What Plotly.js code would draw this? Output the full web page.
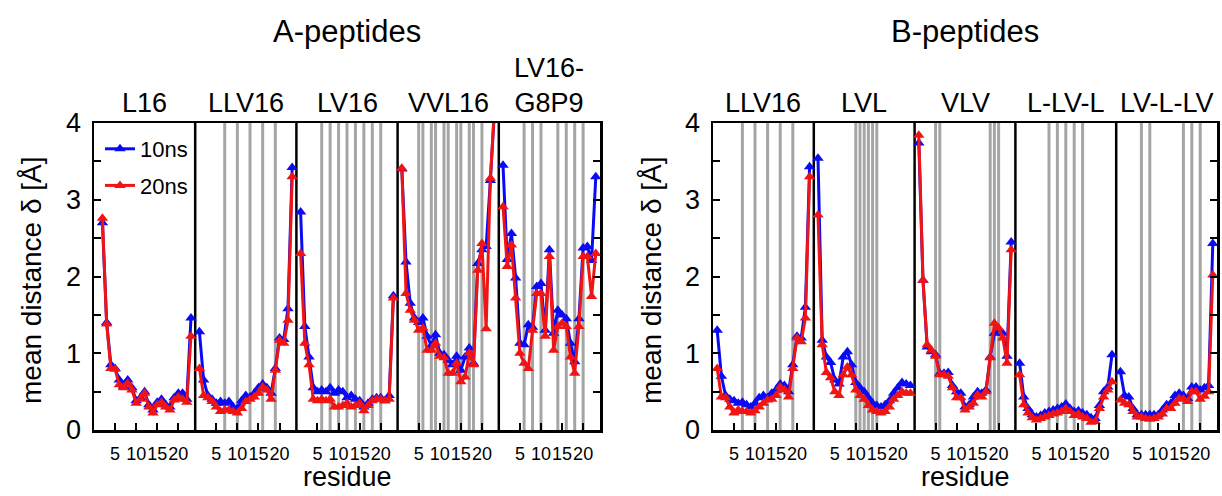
<!DOCTYPE html>
<html>
<head>
<meta charset="utf-8">
<script src="https://cdn.plot.ly/plotly-3.0.1.min.js"></script>
<style>html,body{margin:0;padding:0;background:#fff;}#chart{width:1222px;height:496px;}</style>
</head>
<body>
<div id="chart"></div>
<script>
// ---------------- DATA ----------------
const seriesNames = ["10ns", "20ns"];
const chartTitles = ["A-peptides", "B-peptides"];
const panelsA = ["L16", "LLV16", "LV16", "VVL16", "LV16-<br>G8P9"];
const panelsB = ["LLV16", "LVL", "VLV", "L-LV-L", "LV-L-LV"];
const tickResidues = [5, 10, 15, 20];
const yTickValues = [0, 0.5, 1, 1.5, 2, 2.5, 3, 3.5, 4];
const yTickLabels = ["0", "", "1", "", "2", "", "3", "", "4"];
const yTitle = "mean distance δ [Å]";
const xTitle = "residue";

const residuesFrom2 = [2,3,4,5,6,7,8,9,10,11,12,13,14,15,16,17,18,19,20,21,22,23];
const residuesFrom1 = [1,2,3,4,5,6,7,8,9,10,11,12,13,14,15,16,17,18,19,20,21,22,23];

// A-peptides
const A_L16_10ns   = [2.70,1.40,0.85,0.80,0.65,0.57,0.65,0.55,0.38,0.42,0.50,0.33,0.26,0.36,0.40,0.33,0.30,0.42,0.48,0.48,0.40,1.46];
const A_L16_20ns   = [2.76,1.38,0.80,0.79,0.59,0.55,0.61,0.52,0.35,0.40,0.48,0.30,0.22,0.33,0.36,0.30,0.26,0.39,0.43,0.40,0.36,1.22];
const A_LLV16_10ns = [1.28,0.65,0.45,0.40,0.35,0.37,0.35,0.37,0.30,0.28,0.38,0.45,0.43,0.48,0.55,0.60,0.55,0.48,0.80,1.20,1.18,1.58,3.42];
const A_LLV16_20ns = [0.80,0.45,0.42,0.37,0.30,0.24,0.26,0.26,0.24,0.22,0.28,0.37,0.40,0.43,0.48,0.56,0.52,0.40,0.78,1.17,1.13,1.43,3.30];
const A_LV16_10ns  = [2.84,1.35,0.95,0.55,0.50,0.52,0.50,0.55,0.48,0.52,0.50,0.42,0.45,0.40,0.38,0.30,0.35,0.40,0.42,0.42,0.38,0.45,1.75];
const A_LV16_20ns  = [2.30,1.13,0.85,0.40,0.38,0.40,0.38,0.40,0.30,0.30,0.32,0.35,0.30,0.32,0.35,0.25,0.32,0.38,0.40,0.40,0.38,0.40,1.72];
const A_VVL16_10ns = [3.40,2.19,1.65,1.46,1.40,1.46,1.22,1.10,1.24,1.00,0.98,0.91,0.85,0.96,0.78,0.95,1.07,0.87,2.17,2.35,2.39,3.25,4.20];
const A_VVL16_20ns = [3.41,1.78,1.56,1.43,1.30,1.33,1.04,1.04,1.13,0.96,0.94,0.74,0.74,0.87,0.63,0.69,1.00,0.85,2.08,2.43,1.32,3.28,4.20];
const A_G8P9_10ns  = [3.45,2.22,2.56,1.98,1.13,1.11,1.37,1.34,1.87,1.91,1.30,2.35,1.26,1.56,1.50,1.45,1.13,0.89,1.45,2.37,2.39,2.21,3.30];
const A_G8P9_20ns  = [2.91,2.13,2.41,1.72,1.00,0.87,0.80,1.30,1.78,1.78,1.22,2.26,1.04,1.35,1.39,1.35,0.95,0.74,1.35,2.26,2.26,1.74,2.30];

// B-peptides
const B_LLV16_10ns = [1.30,0.70,0.45,0.40,0.38,0.35,0.36,0.33,0.30,0.35,0.42,0.45,0.42,0.48,0.52,0.60,0.58,0.50,0.85,1.22,1.20,1.60,3.43];
const B_LLV16_20ns = [0.80,0.43,0.42,0.30,0.22,0.26,0.24,0.24,0.22,0.25,0.30,0.35,0.39,0.40,0.45,0.56,0.52,0.43,0.80,1.20,1.15,1.46,3.30];
const B_LVL_10ns   = [3.54,1.17,0.95,0.88,0.65,0.60,0.95,1.02,0.85,0.62,0.55,0.50,0.42,0.35,0.32,0.30,0.33,0.38,0.48,0.55,0.62,0.60,0.58];
const B_LVL_20ns   = [2.80,1.11,0.75,0.68,0.50,0.45,0.72,0.82,0.72,0.52,0.45,0.40,0.32,0.26,0.24,0.22,0.24,0.30,0.40,0.45,0.50,0.48,0.48];
const B_VLV_10ns   = [3.74,1.95,1.08,1.02,0.98,0.74,0.74,0.75,0.58,0.50,0.48,0.30,0.33,0.43,0.50,0.48,0.52,0.95,1.26,1.30,1.26,0.96,2.45];
const B_VLV_20ns   = [3.84,1.95,1.11,1.04,0.96,0.72,0.72,0.70,0.55,0.42,0.42,0.26,0.30,0.35,0.46,0.43,0.50,0.94,1.39,1.33,1.20,0.87,2.35];
const B_LLVL_10ns  = [0.87,0.43,0.28,0.20,0.17,0.19,0.22,0.24,0.26,0.28,0.30,0.34,0.28,0.24,0.25,0.22,0.20,0.16,0.15,0.32,0.50,0.56,0.98];
const B_LLVL_20ns  = [0.72,0.33,0.22,0.16,0.13,0.15,0.17,0.19,0.21,0.22,0.24,0.28,0.24,0.19,0.21,0.17,0.15,0.10,0.11,0.28,0.43,0.52,0.63];
const B_LVLLV_10ns = [0.76,0.45,0.43,0.28,0.20,0.20,0.20,0.20,0.20,0.20,0.26,0.33,0.35,0.45,0.48,0.45,0.41,0.56,0.56,0.52,0.55,0.58,2.43];
const B_LVLLV_20ns = [0.39,0.35,0.33,0.24,0.17,0.17,0.15,0.14,0.15,0.17,0.21,0.28,0.28,0.35,0.41,0.40,0.37,0.50,0.50,0.40,0.44,0.50,2.02];

// marked residues (grey lines) per panel
const greyA = [[], [7,10,13,16,19], [6,8,10,12,14,16,18,20], [5,6,8,9,11,12,14,15,17,18,20], [6,8,10,14,16,18,20]];
const greyB = [[7,10,13,16,19], [10,11,12,13,14,15], [5,6,18,19,20], [8,10,12,14,16], [6,8,16,18,20]];

// ---------------- BUILD ----------------
const chartData = [
  { panels: panelsA, grey: greyA,
    residues: [residuesFrom2, residuesFrom1, residuesFrom1, residuesFrom1, residuesFrom1],
    values: [[A_L16_10ns, A_LLV16_10ns, A_LV16_10ns, A_VVL16_10ns, A_G8P9_10ns],
             [A_L16_20ns, A_LLV16_20ns, A_LV16_20ns, A_VVL16_20ns, A_G8P9_20ns]] },
  { panels: panelsB, grey: greyB,
    residues: [residuesFrom1, residuesFrom1, residuesFrom1, residuesFrom1, residuesFrom1],
    values: [[B_LLV16_10ns, B_LVL_10ns, B_VLV_10ns, B_LLVL_10ns, B_LVLLV_10ns],
             [B_LLV16_20ns, B_LVL_20ns, B_VLV_20ns, B_LLVL_20ns, B_LVLLV_20ns]] }
];

const W = 1222, H = 496;
const SPAN = 24;
const FONT = "Liberation Sans, Arial, Helvetica, sans-serif";
const colors = ["rgb(10,10,245)", "rgb(240,20,20)"];
const px = p => p / W;
const py = p => 1 - p / H;
const xDomains = [[px(94), px(600)], [px(713), px(1217)]];
const yDomain = [py(430), py(123)];
const axisIds = [["x", "y"], ["x2", "y2"]];

const traces = [];
for (let s = 0; s < 2; s++) {
  for (let c = 0; c < 2; c++) {
    const cd = chartData[c];
    for (let k = 0; k < cd.panels.length; k++) {
      traces.push({
        type: "scatter", mode: "lines+markers",
        x: cd.residues[k].map(r => k * SPAN + r),
        y: cd.values[s][k],
        xaxis: axisIds[c][0], yaxis: axisIds[c][1],
        name: seriesNames[s], legendgroup: seriesNames[s],
        showlegend: (c === 0 && k === 0),
        line: { color: colors[s], width: 3 },
        marker: { symbol: "triangle-up", size: 10, color: colors[s] },
        cliponaxis: true
      });
    }
  }
}

const shapes = [];
const annotations = [];
for (let c = 0; c < 2; c++) {
  const cd = chartData[c];
  const xr = axisIds[c][0], yr = axisIds[c][1];
  for (let k = 0; k < cd.panels.length; k++) {
    cd.grey[k].forEach(r => shapes.push({
      type: "line", layer: "below", xref: xr, yref: yr + " domain",
      x0: k * SPAN + r, x1: k * SPAN + r, y0: 0, y1: 1,
      line: { color: "rgb(165,165,165)", width: 3 }
    }));
    if (k > 0) shapes.push({
      type: "line", layer: "below", xref: xr, yref: yr + " domain",
      x0: k * SPAN, x1: k * SPAN, y0: 0, y1: 1,
      line: { color: "black", width: 2.5 }
    });
    annotations.push({
      text: cd.panels[k], xref: xr, yref: "paper",
      x: k * SPAN + SPAN / 2, y: py(120), xanchor: "center", yanchor: "bottom",
      showarrow: false, font: { family: FONT, size: 27, color: "black" }
    });
  }
  const cx = (xDomains[c][0] + xDomains[c][1]) / 2;
  annotations.push({
    text: chartTitles[c], xref: "paper", yref: "paper", x: cx, y: py(32),
    xanchor: "center", yanchor: "middle", showarrow: false,
    font: { family: FONT, size: 31, color: "black" }
  });
  annotations.push({
    text: xTitle, xref: "paper", yref: "paper", x: cx, y: py(477),
    xanchor: "center", yanchor: "middle", showarrow: false,
    font: { family: FONT, size: 27, color: "black" }
  });
  annotations.push({
    text: yTitle, xref: "paper", yref: "paper", x: px(c === 0 ? 31 : 651), y: py(280),
    xanchor: "center", yanchor: "middle", textangle: -90, showarrow: false,
    font: { family: FONT, size: 28, color: "black" }
  });
}

const tickVals = [], tickText = [];
for (let k = 0; k < 5; k++) tickResidues.forEach(t => { tickVals.push(k * SPAN + t); tickText.push(String(t)); });

function xAxis(c) {
  return {
    domain: xDomains[c], range: [0, 5 * SPAN], anchor: axisIds[c][1],
    tickmode: "array", tickvals: tickVals, ticktext: tickText, tickangle: 0,
    ticks: "inside", ticklen: 7, tickwidth: 2, tickcolor: "black",
    showline: true, linewidth: 2.5, linecolor: "black", mirror: true,
    showgrid: false, zeroline: false, ticklabelstandoff: 6,
    tickfont: { family: FONT, size: 18, color: "black" }, fixedrange: true
  };
}
function yAxis(c) {
  return {
    domain: yDomain, range: [0, 4], anchor: axisIds[c][0],
    tickmode: "array", tickvals: yTickValues, ticktext: yTickLabels,
    ticks: "inside", ticklen: 7, tickwidth: 2, tickcolor: "black",
    showline: true, linewidth: 2.5, linecolor: "black", mirror: "ticks",
    showgrid: false, zeroline: false, ticklabelstandoff: 5,
    tickfont: { family: FONT, size: 27, color: "black" }, fixedrange: true
  };
}

const layout = {
  width: W, height: H,
  margin: { l: 0, r: 0, t: 0, b: 0 },
  paper_bgcolor: "white", plot_bgcolor: "white",
  font: { family: FONT, color: "black" },
  xaxis: xAxis(0), yaxis: yAxis(0), xaxis2: xAxis(1), yaxis2: yAxis(1),
  shapes: shapes, annotations: annotations,
  showlegend: true,
  legend: {
    x: px(100), y: py(128), xanchor: "left", yanchor: "top",
    bgcolor: "rgba(0,0,0,0)", borderwidth: 0,
    font: { family: FONT, size: 22, color: "black" },
    traceorder: "grouped", tracegroupgap: 5, itemwidth: 30
  }
};

Plotly.newPlot("chart", traces, layout, { staticPlot: true, displayModeBar: false });
</script>
</body>
</html>
